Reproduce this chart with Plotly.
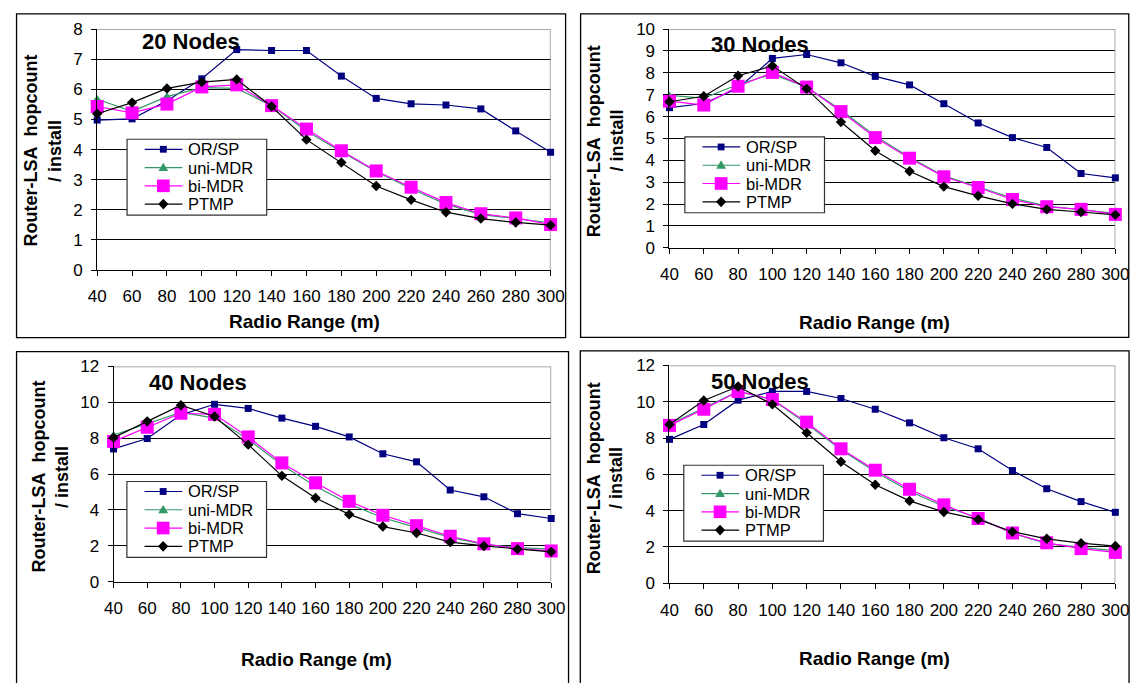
import plotly.graph_objects as go

W, H = 1146, 683

# ---------------- data ----------------
radio_range = [40, 60, 80, 100, 120, 140, 160, 180, 200, 220, 240, 260, 280, 300]
series_names = ["OR/SP", "uni-MDR", "bi-MDR", "PTMP"]
panel_titles = ["20 Nodes", "30 Nodes", "40 Nodes", "50 Nodes"]
y_tick_max = [8, 10, 12, 12]
y_tick_step = [1, 1, 2, 2]

orsp_20 = [4.98, 5.02, 5.62, 6.35, 7.32, 7.29, 7.29, 6.44, 5.70, 5.52, 5.48, 5.35, 4.62, 3.91]
unimdr_20 = [5.67, 5.27, 5.76, 6.06, 6.03, 5.46, 4.62, 3.93, 3.27, 2.70, 2.19, 1.84, 1.71, 1.57]
bimdr_20 = [5.43, 5.22, 5.51, 6.08, 6.15, 5.46, 4.68, 3.96, 3.29, 2.75, 2.24, 1.87, 1.73, 1.51]
ptmp_20 = [5.19, 5.56, 6.03, 6.24, 6.33, 5.43, 4.33, 3.57, 2.79, 2.33, 1.92, 1.71, 1.58, 1.49]

orsp_30 = [6.41, 6.60, 7.30, 8.66, 8.84, 8.46, 7.84, 7.45, 6.59, 5.71, 5.04, 4.59, 3.40, 3.20]
unimdr_30 = [6.97, 6.85, 7.47, 7.94, 7.35, 6.30, 5.11, 4.14, 3.29, 2.80, 2.28, 1.91, 1.76, 1.58]
bimdr_30 = [6.71, 6.53, 7.39, 8.02, 7.35, 6.23, 5.04, 4.10, 3.25, 2.76, 2.21, 1.88, 1.76, 1.53]
ptmp_30 = [6.68, 6.93, 7.87, 8.32, 7.27, 5.75, 4.44, 3.50, 2.80, 2.38, 2.01, 1.76, 1.64, 1.51]

orsp_40 = [7.40, 7.98, 9.30, 9.89, 9.66, 9.12, 8.66, 8.07, 7.13, 6.68, 5.11, 4.73, 3.79, 3.52]
unimdr_40 = [8.18, 8.81, 9.44, 9.12, 7.94, 6.50, 5.32, 4.33, 3.56, 3.01, 2.47, 2.08, 1.90, 1.81]
bimdr_40 = [7.82, 8.61, 9.39, 9.33, 8.07, 6.62, 5.51, 4.48, 3.70, 3.12, 2.53, 2.11, 1.84, 1.71]
ptmp_40 = [8.03, 8.94, 9.84, 9.21, 7.64, 5.90, 4.66, 3.75, 3.07, 2.71, 2.20, 1.99, 1.81, 1.66]

orsp_50 = [7.93, 8.75, 10.09, 10.57, 10.57, 10.18, 9.59, 8.84, 8.02, 7.41, 6.21, 5.21, 4.50, 3.91]
unimdr_50 = [8.75, 9.68, 10.57, 10.13, 8.79, 7.36, 6.14, 5.07, 4.23, 3.61, 2.75, 2.18, 2.00, 1.79]
bimdr_50 = [8.70, 9.59, 10.57, 10.13, 8.88, 7.41, 6.23, 5.18, 4.32, 3.57, 2.77, 2.23, 1.91, 1.70]
ptmp_50 = [8.75, 10.07, 10.84, 9.86, 8.29, 6.70, 5.43, 4.54, 3.93, 3.52, 2.84, 2.45, 2.21, 2.05]

panel_data = [
    [orsp_20, unimdr_20, bimdr_20, ptmp_20],
    [orsp_30, unimdr_30, bimdr_30, ptmp_30],
    [orsp_40, unimdr_40, bimdr_40, ptmp_40],
    [orsp_50, unimdr_50, bimdr_50, ptmp_50],
]

# ---------------- styles / layout (pixels) ----------------
FONT = "Liberation Sans, Arial, sans-serif"
colors = ["#000080", "#339966", "#FF00FF", "#000000"]
symbols = ["square", "triangle-up", "square", "diamond"]
msizes = [7, 8, 13, 8]

# plot areas: left, right, top, bottom (px)
areas = [
    (90, 552.7, 20.7, 268.5),
    (674, 1129, 20.7, 245.7),
    (106.7, 553.3, 367.7, 589),
    (674, 1129, 366.7, 590.7),
]
frames = [
    (7.7, 568, 5, 338),
    (583.3, 1142.7, 5, 337.7),
    (7.7, 571, 352.5, 700),
    (583, 1143, 351.7, 700),
]
title_pos = [(185.8, 33.3), (766.6, 36.1), (193, 384.4), (766.6, 383.3)]
xtitle_pos = [(301.5, 321), (883.7, 322.6), (313.3, 669.3), (883.7, 668.3)]
ytitle_pos = [((22, 47), 146), ((596.4, 620.2), 135.6), ((30.4, 53.5), 481), ((596.4, 619.5), 482.3)]
legend_pos = [(120.5, 134), (689.7, 131.6), (120.3, 486), (688.6, 469.3)]
LEG_W, LEG_H = 142.5, 78
LEG_OFFS = [10.3, 29.1, 47.9, 66.7]
LEG_FONT = 16.5


def PX(x):
    return x / W


def PY(y):
    return 1 - y / H


fig = go.Figure()
shapes = []
annotations = []

for i in range(4):
    ax = "" if i == 0 else str(i + 1)
    l, r, t, b = areas[i]
    for k in range(4):
        fig.add_trace(go.Scatter(
            x=radio_range, y=panel_data[i][k], mode="lines+markers",
            name=series_names[k], showlegend=False, cliponaxis=False,
            line=dict(color=colors[k], width=1.2),
            marker=dict(symbol=symbols[k], size=msizes[k], color=colors[k],
                        line=dict(width=0)),
            xaxis="x" + ax, yaxis="y" + ax,
        ))
    fig.layout["xaxis" + ax] = dict(
        domain=[PX(l), PX(r)], range=[40, 300], anchor="y" + ax,
        tickvals=radio_range, ticktext=[str(v) for v in radio_range],
        ticks="outside", ticklen=5, tickcolor="black", tickwidth=1,
        showline=True, linecolor="black", linewidth=1,
        showgrid=False, zeroline=False, ticklabelstandoff=6,
        tickfont=dict(family=FONT, size=17, color="black"),
    )
    fig.layout["yaxis" + ax] = dict(
        domain=[PY(b), PY(t)], range=[0, y_tick_max[i]], anchor="x" + ax,
        dtick=y_tick_step[i], tick0=0,
        ticks="outside", ticklen=5, tickcolor="black", tickwidth=1,
        showline=True, linecolor="black", linewidth=1,
        showgrid=True, gridcolor="black", gridwidth=1,
        zeroline=False, ticklabelstandoff=5,
        tickfont=dict(family=FONT, size=17, color="black"),
    )
    # gray top/right border of the plot area
    shapes.append(dict(
        type="path", xref="x" + ax, yref="y" + ax, layer="between",
        path=f"M 40,{y_tick_max[i]} L 300,{y_tick_max[i]} L 300,0",
        line=dict(color="#8c8c8c", width=1.5),
    ))
    # outer chart frame
    fl, fr, ft, fb = frames[i]
    shapes.append(dict(type="rect", xref="paper", yref="paper", layer="below",
                       x0=PX(fl), x1=PX(fr), y0=PY(fb), y1=PY(ft),
                       line=dict(color="black", width=1.3)))
    # titles
    annotations.append(dict(text="<b>" + panel_titles[i] + "</b>", x=PX(title_pos[i][0]),
                            y=PY(title_pos[i][1]), xref="paper", yref="paper",
                            showarrow=False, xanchor="center", yanchor="middle",
                            font=dict(family=FONT, size=22, color="black")))
    annotations.append(dict(text="<b>Radio Range (m)</b>", x=PX(xtitle_pos[i][0]),
                            y=PY(xtitle_pos[i][1]), xref="paper", yref="paper",
                            showarrow=False, xanchor="center", yanchor="middle",
                            font=dict(family=FONT, size=19, color="black")))
    (yx1, yx2), yy = ytitle_pos[i]
    for txt, xx in (("<b>Router-LSA\u00a0 hopcount</b>", yx1), ("<b>/ install</b>", yx2)):
        annotations.append(dict(text=txt, x=PX(xx), y=PY(yy), xref="paper", yref="paper",
                                showarrow=False, textangle=-90, xanchor="center",
                                yanchor="middle",
                                font=dict(family=FONT, size=18, color="black")))
    # legend box drawn by hand (entries are packed tighter than plotly's legend allows)
    bx, by = legend_pos[i]
    shapes.append(dict(type="rect", xref="paper", yref="paper", layer="above",
                       x0=PX(bx), x1=PX(bx + LEG_W), y0=PY(by + LEG_H), y1=PY(by),
                       fillcolor="white", line=dict(color="#333333", width=1.2)))
    for k in range(4):
        cy = by + LEG_OFFS[k]
        cx = bx + 37
        shapes.append(dict(type="line", xref="paper", yref="paper", layer="above",
                           x0=PX(bx + 18), x1=PX(bx + 56.5), y0=PY(cy), y1=PY(cy),
                           line=dict(color=colors[k], width=1.2)))
        if symbols[k] == "square":
            s = msizes[k] / 2
            shapes.append(dict(type="rect", xref="paper", yref="paper", layer="above",
                               x0=PX(cx - s), x1=PX(cx + s), y0=PY(cy + s), y1=PY(cy - s),
                               fillcolor=colors[k], line=dict(width=0)))
        elif symbols[k] == "triangle-up":
            pts = [(cx, cy - 5), (cx + 5, cy + 3.5), (cx - 5, cy + 3.5)]
            path = "M " + " L ".join(f"{PX(a)},{PY(c)}" for a, c in pts) + " Z"
            shapes.append(dict(type="path", xref="paper", yref="paper", layer="above",
                               path=path, fillcolor=colors[k], line=dict(width=0)))
        else:
            pts = [(cx, cy - 5.5), (cx + 5.2, cy), (cx, cy + 5.5), (cx - 5.2, cy)]
            path = "M " + " L ".join(f"{PX(a)},{PY(c)}" for a, c in pts) + " Z"
            shapes.append(dict(type="path", xref="paper", yref="paper", layer="above",
                               path=path, fillcolor=colors[k], line=dict(width=0)))
        annotations.append(dict(text=series_names[k], x=PX(bx + 60.5), y=PY(cy),
                                xref="paper", yref="paper", showarrow=False,
                                xanchor="left", yanchor="middle",
                                font=dict(family=FONT, size=LEG_FONT, color="black")))

fig.update_layout(
    width=W, height=H, margin=dict(l=0, r=0, t=0, b=0),
    paper_bgcolor="white", plot_bgcolor="white",
    shapes=shapes, annotations=annotations, showlegend=False,
    font=dict(family=FONT, color="black"),
)

fig.write_html("out.html")
